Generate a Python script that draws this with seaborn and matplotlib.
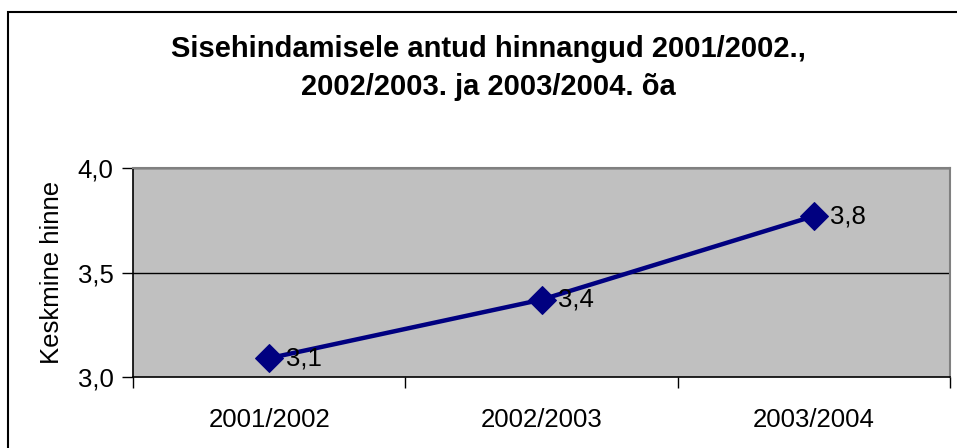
import matplotlib
matplotlib.use("Agg")
import matplotlib.pyplot as plt
import seaborn as sns
import pandas as pd
from matplotlib.patches import Rectangle
from matplotlib.ticker import FixedLocator, NullFormatter

years = ["2001/2002", "2002/2003", "2003/2004"]
values = [3.09, 3.37, 3.77]
value_labels = ["3,1", "3,4", "3,8"]
y_ticks = [3.0, 3.5, 4.0]
y_tick_labels = ["3,0", "3,5", "4,0"]
title = "Sisehindamisele antud hinnangud 2001/2002.,\n2002/2003. ja 2003/2004. õa"
y_label = "Keskmine hinne"

sns.set_theme(style="white")
plt.rcParams["font.family"] = ["Liberation Sans", "DejaVu Sans"]

df = pd.DataFrame({"year": years, "value": values})

fig = plt.figure(figsize=(9.57, 4.48), dpi=100)
W, H = 957, 448
ax = fig.add_axes([133 / W, 1 - 377 / H, (950 - 133) / W, (377 - 168) / H])
ax.set_facecolor("#C0C0C0")

sns.lineplot(data=df, x="year", y="value", ax=ax, color="#000080",
             linewidth=3.2, marker="D", markersize=14,
             markeredgecolor="#000080", sort=False, zorder=3)

ax.set_xlim(-0.5, 2.5)
ax.set_ylim(3.0, 4.0)
ax.set_yticks(y_ticks)
ax.set_yticklabels(y_tick_labels)
ax.set_xticks(range(len(years)))
ax.set_xticklabels(years)
ax.xaxis.set_minor_locator(FixedLocator([-0.5, 0.5, 1.5, 2.5]))
ax.xaxis.set_minor_formatter(NullFormatter())
ax.tick_params(axis="x", which="major", length=0, pad=22, labelsize=18.5, colors="black")
ax.tick_params(axis="x", which="minor", length=8, width=1, color="black", direction="out", bottom=True)
ax.tick_params(axis="y", which="major", length=8, width=1, color="black", direction="out",
               left=True, pad=6, labelsize=18.5, labelcolor="black")

for v in [3.5, 4.0]:
    ax.axhline(v, color="black", linewidth=1, zorder=1)

for spine in ["left", "bottom"]:
    ax.spines[spine].set_color("black")
    ax.spines[spine].set_linewidth(1.2)
for spine in ["top", "right"]:
    ax.spines[spine].set_color("#808080")
    ax.spines[spine].set_linewidth(1.5)

ax.set_xlabel("")
ax.set_ylabel(y_label, fontsize=18.5, color="black", labelpad=10)

for i, (v, lab) in enumerate(zip(values, value_labels)):
    ax.annotate(lab, xy=(i, v), xytext=(12, 0), textcoords="offset points",
                ha="left", va="center", fontsize=18.5, color="black", zorder=4)

fig.text(488 / W, 1 - 68 / H, title, ha="center", va="center",
         fontsize=21, fontweight="bold", linespacing=1.48, color="black")

fig.patches.append(Rectangle((8 / W, -0.1), 1.2, 1 - 12 / H + 0.1,
                             transform=fig.transFigure, fill=False,
                             edgecolor="black", linewidth=1.5))

fig.savefig("out.png", dpi=100)
